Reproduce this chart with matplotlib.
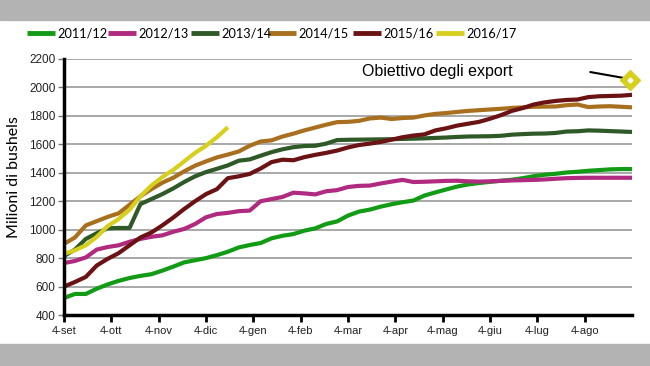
import matplotlib
matplotlib.use("Agg")
import matplotlib.pyplot as plt
from matplotlib.patches import Rectangle
from matplotlib.lines import Line2D
import numpy as np

# weekly cumulative exports, week 0 = 4 settembre
seasons = ["2011/12", "2012/13", "2013/14", "2014/15", "2015/16", "2016/17"]
colors = ["#129c16", "#b02a80", "#2f5a28", "#a8701e", "#6b1214", "#d6cf1e"]

s1112 = [520, 548, 548, 585, 615, 640, 660, 675, 687, 712, 740, 770, 785, 800,
         821, 845, 875, 892, 906, 939, 957, 969, 993, 1009, 1040, 1058, 1099,
         1127, 1141, 1162, 1179, 1193, 1205, 1240, 1262, 1283, 1303, 1318, 1328,
         1336, 1344, 1351, 1362, 1376, 1386, 1393, 1402, 1407, 1414, 1419, 1424,
         1426, 1426]
s1213 = [765, 780, 805, 860, 878, 890, 915, 935, 950, 960, 985, 1005, 1040,
         1087, 1110, 1118, 1130, 1134, 1200, 1215, 1230, 1260, 1255, 1248, 1270,
         1278, 1300, 1308, 1310, 1325, 1338, 1350, 1335, 1337, 1340, 1343, 1344,
         1340, 1338, 1340, 1343, 1346, 1348, 1350, 1353, 1358, 1362, 1364, 1365,
         1365, 1365, 1365, 1365]
s1314 = [815, 860, 935, 975, 1010, 1012, 1012, 1180, 1215, 1250, 1290, 1335,
         1375, 1405, 1428, 1452, 1485, 1494, 1520, 1545, 1565, 1580, 1588, 1590,
         1605, 1630, 1632, 1633, 1634, 1635, 1636, 1638, 1640, 1642, 1645, 1648,
         1652, 1655, 1656, 1657, 1660, 1668, 1672, 1675, 1676, 1680, 1690, 1692,
         1698, 1696, 1693, 1690, 1687]
s1415 = [900, 945, 1030, 1060, 1090, 1115, 1175, 1235, 1285, 1330, 1365, 1410,
         1450, 1480, 1508, 1528, 1550, 1590, 1620, 1628, 1655, 1675, 1698, 1718,
         1738, 1756, 1758, 1765, 1782, 1788, 1778, 1785, 1788, 1803, 1814, 1820,
         1828, 1835, 1840, 1845, 1850, 1856, 1860, 1864, 1865, 1866, 1875, 1880,
         1862, 1866, 1868, 1864, 1860]
s1516 = [600, 632, 668, 748, 795, 835, 890, 945, 980, 1030, 1085, 1145, 1200,
         1250, 1285, 1362, 1375, 1392, 1430, 1475, 1492, 1488, 1510, 1526, 1540,
         1556, 1578, 1595, 1605, 1617, 1633, 1650, 1662, 1670, 1698, 1713, 1732,
         1745, 1758, 1780, 1805, 1835, 1855, 1880, 1895, 1905, 1912, 1915, 1932,
         1938, 1940, 1942, 1948]
s1617 = [830, 855, 890, 950, 1025, 1075, 1140, 1235, 1310, 1370, 1420, 1480,
         1540, 1590, 1650, 1720]
series = [s1112, s1213, s1314, s1415, s1516, s1617]

month_labels = ["4-set", "4-ott", "4-nov", "4-dic", "4-gen", "4-feb", "4-mar",
                "4-apr", "4-mag", "4-giu", "4-lug", "4-ago"]
target_week = 51.8
target_value = 2052

W, H = 650, 366
fig = plt.figure(figsize=(W / 100, H / 100), dpi=100)
fig.patches.append(Rectangle((0, 1 - 20 / H), 1, 20 / H, transform=fig.transFigure,
                             color="#b3b3b3", zorder=0))
fig.patches.append(Rectangle((0, 0), 1, 22 / H, transform=fig.transFigure,
                             color="#b3b3b3", zorder=0))

ax = fig.add_axes([64 / W, 1 - 315 / H, 568 / W, 256 / H])

for name, vals, c in zip(seasons, series, colors):
    ax.plot(np.arange(len(vals)), vals, color=c, lw=3, label=name,
            solid_capstyle="butt")

# export target
ax.plot([48.2, 51.3], [2108, 2066], color="black", lw=1.5)
ax.plot([target_week], [target_value], marker="D", ms=10, color="#d6cf1e",
        clip_on=False, zorder=5)
ax.plot([target_week], [target_value], marker="D", ms=2.5, color="white",
        clip_on=False, zorder=6)
ax.text(34.2, 2115, "Obiettivo degli export", ha="center", va="center",
        fontsize=11.5, family=["Liberation Sans", "DejaVu Sans"])

ax.set_xlim(0, 52)
ax.set_ylim(400, 2200)
ax.set_yticks(range(400, 2201, 200))
ax.set_xticks([i * 52 / 12 for i in range(12)])
ax.set_xticklabels(month_labels)
ax.grid(axis="y", color="#9a9a9a", lw=1.2)
ax.set_axisbelow(True)
for s in ["top", "right"]:
    ax.spines[s].set_visible(False)
for s in ["left", "bottom"]:
    ax.spines[s].set_linewidth(2.5)
ax.tick_params(axis="x", length=5, width=2, labelsize=8, pad=3,
               labelcolor="#222222")
ax.tick_params(axis="y", length=4, width=1, color="#777777", labelsize=8.5,
               labelcolor="#222222", pad=2)
for lab in ax.get_xticklabels() + ax.get_yticklabels():
    lab.set_family(["Liberation Sans", "DejaVu Sans"])

ax.set_ylabel("Milioni di bushels", fontsize=11.5, family=["Lato", "DejaVu Sans"])
ax.yaxis.set_label_coords(-0.076, 0.54)

# legend row, placed by hand
leg_x = [27, 108, 191, 268, 353, 436]
leg_y = 1 - 33 / H
for x0, name, c in zip(leg_x, seasons, colors):
    fig.add_artist(Line2D([x0 / W, (x0 + 28) / W], [leg_y, leg_y], color=c,
                          lw=3.5, solid_capstyle="butt"))
    fig.text((x0 + 30) / W, leg_y, name, ha="left", va="center", fontsize=9.2,
             family=["Lato", "DejaVu Sans"])

fig.savefig("out.png", dpi=100)
